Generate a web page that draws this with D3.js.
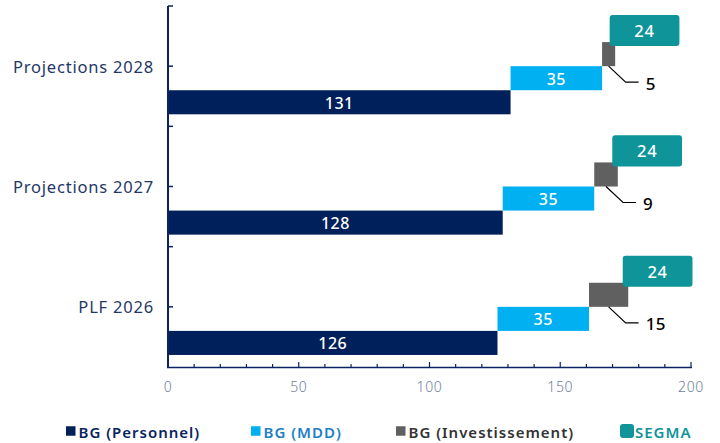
<!DOCTYPE html>
<html>
<head>
<meta charset="utf-8">
<script src="https://cdn.jsdelivr.net/npm/d3@7"></script>
<style>
  html, body { margin: 0; padding: 0; background: #fff; }
  svg { display: block; }
  text { font-family: "Noto Sans", "Open Sans", sans-serif; }
</style>
</head>
<body>
<div id="chart"></div>
<script>
// ---- Data ----
const categories = ["PLF 2026", "Projections 2027", "Projections 2028"];
const personnel = [126, 128, 131];
const mdd = [35, 35, 35];
const investissement = [15, 9, 5];
const segma = [24, 24, 24];
const seriesNames = ["BG (Personnel)", "BG (MDD)", "BG (Investissement)", "SEGMA"];
const xTicks = [0, 50, 100, 150, 200];

// ---- Styles ----
const colors = {
  "BG (Personnel)": "#00205B",
  "BG (MDD)": "#00B0F0",
  "BG (Investissement)": "#606060",
  "SEGMA": "#0E9499"
};
const legendText = {
  "BG (Personnel)": "#0B2461",
  "BG (MDD)": "#1D7FC7",
  "BG (Investissement)": "#333333",
  "SEGMA": "#0E9499"
};

const W = 720, H = 443;
const svg = d3.select("#chart").append("svg").attr("width", W).attr("height", H);

const x = d3.scaleLinear().domain([0, 200]).range([168, 691]);
const catOrder = categories.slice().reverse(); // top-down
const y = d3.scaleBand().domain(catOrder).range([6, 367]).padding(0);
const rowOrder = ["SEGMA", "BG (Investissement)", "BG (MDD)", "BG (Personnel)"];
const yi = d3.scaleBand().domain(rowOrder).range([0, y.bandwidth()]).paddingInner(0).paddingOuter(0.5);

// build waterfall segments
const segs = [];
categories.forEach((c, i) => {
  const vals = [personnel[i], mdd[i], investissement[i], segma[i]];
  let acc = 0;
  vals.forEach((v, k) => {
    segs.push({cat: c, series: seriesNames[k], start: acc, end: acc + v, value: v});
    acc += v;
  });
});

const g = svg.append("g");

// bars (except SEGMA, drawn as rounded label boxes)
g.selectAll("rect.bar")
  .data(segs.filter(d => d.series !== "SEGMA"))
  .join("rect")
  .attr("class", "bar")
  .attr("x", d => x(d.start))
  .attr("y", d => y(d.cat) + yi(d.series))
  .attr("width", d => x(d.end) - x(d.start))
  .attr("height", yi.bandwidth())
  .attr("fill", d => colors[d.series]);

// SEGMA boxes
const seg = segs.filter(d => d.series === "SEGMA");
g.selectAll("rect.segma")
  .data(seg)
  .join("rect")
  .attr("class", "segma")
  .attr("x", d => x(d.start) - 5.5)
  .attr("y", d => y(d.cat) + yi(d.series) - 3)
  .attr("width", d => x(d.end) - x(d.start) + 7)
  .attr("height", yi.bandwidth() + 7)
  .attr("rx", 3)
  .attr("fill", colors["SEGMA"]);

g.selectAll("text.segma")
  .data(seg)
  .join("text")
  .attr("class", "segma")
  .attr("x", d => (x(d.start) - 5.5 + x(d.end) + 1.5) / 2)
  .attr("y", d => y(d.cat) + yi(d.series) + yi.bandwidth() / 2 + 0.5)
  .attr("text-anchor", "middle")
  .attr("dominant-baseline", "central")
  .attr("fill", "#fff")
  .attr("font-size", 16.5)
  .attr("font-weight", 500)
  .attr("letter-spacing", 0.8)
  .text(d => d.value);

// inside labels for Personnel & MDD
g.selectAll("text.inlab")
  .data(segs.filter(d => d.series === "BG (Personnel)" || d.series === "BG (MDD)"))
  .join("text")
  .attr("class", "inlab")
  .attr("x", d => (x(d.start) + x(d.end)) / 2)
  .attr("y", d => y(d.cat) + yi(d.series) + yi.bandwidth() / 2 + 0.5)
  .attr("text-anchor", "middle")
  .attr("dominant-baseline", "central")
  .attr("fill", "#fff")
  .attr("font-size", 16)
  .attr("font-weight", 500)
  .attr("letter-spacing", 0.5)
  .text(d => d.value);

// Investissement leader lines and labels
const inv = segs.filter(d => d.series === "BG (Investissement)");
inv.forEach(d => {
  const cx = (x(d.start) + x(d.end)) / 2;
  const by = y(d.cat) + yi(d.series) + yi.bandwidth();
  const ex = cx + 17, ey = by + 16;
  g.append("path")
    .attr("d", `M${cx},${by}L${ex},${ey}L${ex + 13},${ey}`)
    .attr("fill", "none")
    .attr("stroke", "#000")
    .attr("stroke-width", 1.2);
  g.append("text")
    .attr("x", ex + 20)
    .attr("y", ey + 1)
    .attr("dominant-baseline", "central")
    .attr("fill", "#000")
    .attr("font-size", 17)
    .attr("font-weight", 500)
    .attr("letter-spacing", 0.5)
    .text(d.value);
});

// Axes
const axisColor = "#0B2461";
// left axis line
g.append("line").attr("x1", 168).attr("x2", 168).attr("y1", 6).attr("y2", 368)
  .attr("stroke", axisColor).attr("stroke-width", 2);
// left ticks at band edges and centers
const yTickPos = [];
catOrder.forEach(c => { yTickPos.push(y(c)); yTickPos.push(y(c) + y.bandwidth() / 2); });
g.selectAll("line.ytick").data(yTickPos).join("line")
  .attr("class", "ytick")
  .attr("x1", 168).attr("x2", 173)
  .attr("y1", d => d).attr("y2", d => d)
  .attr("stroke", axisColor).attr("stroke-width", 1.5);

// category labels
g.selectAll("text.cat").data(catOrder).join("text")
  .attr("class", "cat")
  .attr("x", 154)
  .attr("y", d => y(d) + y.bandwidth() / 2)
  .attr("text-anchor", "end")
  .attr("dominant-baseline", "central")
  .attr("fill", "#1F3867")
  .attr("font-size", 16.5)
  .attr("letter-spacing", 0.8)
  .text(d => d);

// bottom axis
g.append("line").attr("x1", 167).attr("x2", 692).attr("y1", 367.5).attr("y2", 367.5)
  .attr("stroke", axisColor).attr("stroke-width", 1.5);
const minor = d3.range(0, 201, 10);
g.selectAll("line.xtick").data(minor).join("line")
  .attr("class", "xtick")
  .attr("x1", d => x(d)).attr("x2", d => x(d))
  .attr("y1", d => d % 50 === 0 ? 362 : 364).attr("y2", 367.5)
  .attr("stroke", axisColor).attr("stroke-width", 1.2);
g.selectAll("text.xlab").data(xTicks).join("text")
  .attr("class", "xlab")
  .attr("x", d => x(d))
  .attr("y", 386)
  .attr("text-anchor", "middle")
  .attr("dominant-baseline", "central")
  .attr("fill", "#6E7E9C")
  .attr("font-size", 14)
  .attr("font-weight", 300)
  .attr("letter-spacing", 0.6)
  .text(d => d);

// Legend
const legendX = [66, 251, 396, 620];
const lg = svg.append("g");
seriesNames.forEach((s, i) => {
  const isSeg = s === "SEGMA";
  const sz = isSeg ? 14 : 9.5;
  lg.append("rect")
    .attr("x", legendX[i])
    .attr("y", 431 - sz / 2)
    .attr("width", sz).attr("height", sz)
    .attr("rx", isSeg ? 3 : 0)
    .attr("fill", colors[s]);
  lg.append("text")
    .attr("x", legendX[i] + sz + (isSeg ? 1 : 3))
    .attr("y", 431.5)
    .attr("dominant-baseline", "central")
    .attr("fill", legendText[s])
    .attr("font-size", 15)
    .attr("font-weight", 600)
    .attr("letter-spacing", 1)
    .text(s);
});
</script>
</body>
</html>
